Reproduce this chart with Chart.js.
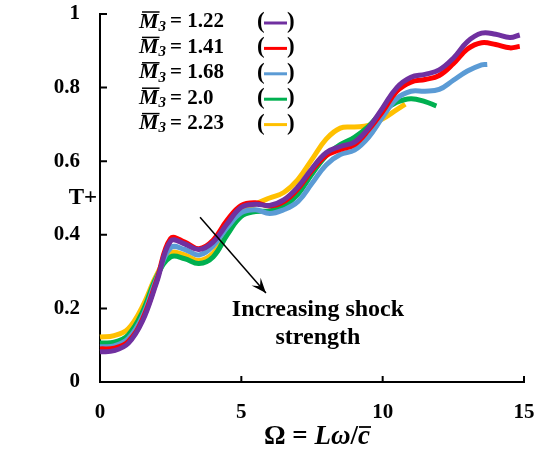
<!DOCTYPE html>
<html>
<head>
<meta charset="utf-8">
<script src="https://cdn.jsdelivr.net/npm/chart.js@4.4.0/dist/chart.umd.min.js"></script>
<style>
  html, body { margin: 0; padding: 0; background: #fff; }
</style>
</head>
<body>
<canvas id="chart" width="536" height="453"></canvas>
<script>
// ===== Data =====
const omega = [0, 0.5, 1, 1.5, 2, 2.5, 3, 3.5, 4, 4.5, 5, 5.5, 6, 6.5, 7, 7.5,
  8, 8.5, 9, 9.5, 10, 10.5, 11, 11.5, 12, 12.5, 13, 13.5, 14, 14.5];
const machLabels = ["1.22", "1.41", "1.68", "2.0", "2.23"];
const endOmega = [14.85, 14.85, 13.7, 11.9, 10.8];   // last point of each curve

const m122 = [0.082, 0.085, 0.105, 0.165, 0.27, 0.383, 0.375, 0.36, 0.38, 0.43, 0.475, 0.483,
  0.48, 0.495, 0.53, 0.58, 0.623, 0.64, 0.652, 0.69, 0.745, 0.8, 0.828, 0.836, 0.848,
  0.88, 0.925, 0.948, 0.945, 0.936, 0.943];
const m141 = [0.09, 0.092, 0.11, 0.17, 0.275, 0.39, 0.38, 0.362, 0.385, 0.44, 0.48, 0.487,
  0.478, 0.49, 0.525, 0.575, 0.615, 0.632, 0.645, 0.685, 0.735, 0.79, 0.815, 0.822, 0.833,
  0.865, 0.905, 0.922, 0.917, 0.908, 0.912];
const m168 = [0.096, 0.098, 0.118, 0.178, 0.28, 0.365, 0.36, 0.345, 0.37, 0.42, 0.46, 0.468,
  0.458, 0.468, 0.49, 0.54, 0.59, 0.618, 0.63, 0.665, 0.72, 0.77, 0.79, 0.79, 0.795,
  0.82, 0.845, 0.862, 0.863];
const m200 = [0.106, 0.108, 0.128, 0.19, 0.285, 0.34, 0.335, 0.322, 0.34, 0.4, 0.45, 0.463,
  0.465, 0.478, 0.51, 0.565, 0.615, 0.645, 0.665, 0.695, 0.735, 0.76, 0.77, 0.762, 0.75];
const m223 = [0.122, 0.126, 0.145, 0.205, 0.29, 0.35, 0.345, 0.33, 0.35, 0.405, 0.46, 0.483,
  0.5, 0.515, 0.55, 0.605, 0.66, 0.69, 0.693, 0.697, 0.715, 0.74, 0.755];

const xTicks = [0, 5, 10, 15];
const yTicks = [0, 0.2, 0.4, 0.6, 0.8, 1];

const colors = ["#7030A0", "#FF0000", "#5B9BD5", "#00B050", "#FFC000"];
const SERIF = '"Liberation Serif", "DejaVu Serif", serif';

// ===== Pontos =====
function toPoints(values, k) {
  return values.map((v, i) => ({
    x: i === values.length - 1 ? endOmega[k] : omega[i],
    y: v
  }));
}
const allSeries = [m122, m141, m168, m200, m223];

// ===== Overlay: legend, ticks, arrow, titles =====
const overlay = {
  id: "overlay",
  afterDraw(chart) {
    const ctx = chart.ctx;
    const xs = chart.scales.x, ys = chart.scales.y;
    const area = chart.chartArea;
    ctx.save();
    ctx.fillStyle = "#000";
    ctx.strokeStyle = "#000";

    // inward tick marks
    ctx.lineWidth = 2;
    ctx.beginPath();
    xTicks.forEach(t => {
      const px = xs.getPixelForValue(t);
      ctx.moveTo(px, area.bottom);
      ctx.lineTo(px, area.bottom - 6);
    });
    yTicks.forEach(t => {
      const py = ys.getPixelForValue(t);
      ctx.moveTo(area.left, py);
      ctx.lineTo(area.left + 7, py);
    });
    ctx.stroke();

    // legend
    ctx.textBaseline = "middle";
    ctx.textAlign = "left";
    const x0 = area.left + 39;
    machLabels.forEach((lab, i) => {
      const yc = area.top + 8 + i * 25.4;
      ctx.font = "italic bold 22px " + SERIF;
      ctx.fillText("M", x0, yc);
      const wM = ctx.measureText("M").width;
      ctx.lineWidth = 1.5;
      ctx.beginPath();
      ctx.moveTo(x0 + 3, yc - 10);
      ctx.lineTo(x0 + wM + 1, yc - 10);
      ctx.stroke();
      ctx.font = "italic bold 15px " + SERIF;
      ctx.fillText("3", x0 + wM, yc + 5);
      ctx.font = "bold 21px " + SERIF;
      ctx.fillText("= " + lab, x0 + 31, yc);
      ctx.font = "bold 23px " + SERIF;
      ctx.fillText("(", area.left + 157, yc);
      ctx.fillText(")", area.left + 187, yc);
      ctx.strokeStyle = colors[i];
      ctx.lineWidth = 3;
      ctx.beginPath();
      ctx.moveTo(area.left + 164, yc + 1);
      ctx.lineTo(area.left + 187, yc + 1);
      ctx.stroke();
      ctx.strokeStyle = "#000";
    });

    // arrow
    const ax0 = xs.getPixelForValue(3.54), ay0 = ys.getPixelForValue(0.448);
    const ax1 = xs.getPixelForValue(5.87), ay1 = ys.getPixelForValue(0.242);
    ctx.lineWidth = 1.5;
    ctx.beginPath();
    ctx.moveTo(ax0, ay0);
    ctx.lineTo(ax1, ay1);
    ctx.stroke();
    const ang = Math.atan2(ay1 - ay0, ax1 - ax0);
    const L = 15, W = 6;
    ctx.beginPath();
    ctx.moveTo(ax1, ay1);
    ctx.lineTo(ax1 - L * Math.cos(ang) + W * Math.sin(ang), ay1 - L * Math.sin(ang) - W * Math.cos(ang));
    ctx.lineTo(ax1 - 0.6 * L * Math.cos(ang), ay1 - 0.6 * L * Math.sin(ang));
    ctx.lineTo(ax1 - L * Math.cos(ang) - W * Math.sin(ang), ay1 - L * Math.sin(ang) + W * Math.cos(ang));
    ctx.closePath();
    ctx.fill();

    // annotation
    ctx.textAlign = "center";
    ctx.font = "bold 24px " + SERIF;
    ctx.fillText("Increasing shock", xs.getPixelForValue(7.71), ys.getPixelForValue(0.196));
    ctx.fillText("strength", xs.getPixelForValue(7.71), ys.getPixelForValue(0.12));

    // y title
    ctx.font = "bold 23px " + SERIF;
    ctx.fillText("T+", area.left - 17, ys.getPixelForValue(0.5));

    // x title: Ω = Lω/c̄
    const parts = [
      ["Ω", "bold 27px "],
      [" = ", "bold 27px "],
      ["Lω", "italic bold 27px "],
      ["/", "bold 27px "],
      ["c", "italic bold 27px "]
    ];
    let total = 0;
    parts.forEach(p => { ctx.font = p[1] + SERIF; total += ctx.measureText(p[0]).width; });
    let cx = (area.left + area.right) / 2 + 5 - total / 2;
    const by = 437;
    ctx.textAlign = "left";
    parts.forEach(p => {
      ctx.font = p[1] + SERIF;
      ctx.fillText(p[0], cx, by);
      const w = ctx.measureText(p[0]).width;
      if (p[0] === "c") {
        ctx.lineWidth = 1.8;
        ctx.beginPath();
        ctx.moveTo(cx + 1, by - 10);
        ctx.lineTo(cx + w + 1, by - 10);
        ctx.stroke();
      }
      cx += w;
    });
    ctx.restore();
  }
};

// ===== Chart =====
const ctx = document.getElementById("chart").getContext("2d");
new Chart(ctx, {
  type: "line",
  data: {
    datasets: allSeries.map((vals, k) => ({
      label: machLabels[k],
      data: toPoints(vals, k),
      borderColor: colors[k],
      borderWidth: 5,
      pointRadius: 0,
      tension: 0.4,
      fill: false,
      clip: false
    }))
  },
  options: {
    responsive: false,
    devicePixelRatio: 1,
    animation: false,
    layout: { padding: { left: 0, right: 12, top: 14, bottom: 0 } },
    plugins: { legend: { display: false }, tooltip: { enabled: false } },
    scales: {
      x: {
        type: "linear", min: 0, max: 15,
        afterFit: s => { s.height = 71; s.paddingLeft = 0; s.paddingRight = 0; },
        afterBuildTicks: s => { s.ticks = xTicks.map(v => ({ value: v })); },
        grid: { display: false, drawTicks: false },
        border: { display: true, color: "#000", width: 2 },
        ticks: { color: "#000", padding: 18, font: { family: SERIF, size: 21, weight: "bold" } }
      },
      y: {
        min: 0, max: 1,
        afterFit: s => { s.width = 100; s.paddingTop = 0; s.paddingBottom = 0; },
        afterBuildTicks: s => { s.ticks = yTicks.map(v => ({ value: v })); },
        grid: { display: false, drawTicks: false },
        border: { display: true, color: "#000", width: 2 },
        ticks: { color: "#000", padding: 20, font: { family: SERIF, size: 21, weight: "bold" },
          callback: v => String(Math.round(v * 10) / 10) }
      }
    }
  },
  plugins: [overlay]
});
</script>
</body>
</html>
